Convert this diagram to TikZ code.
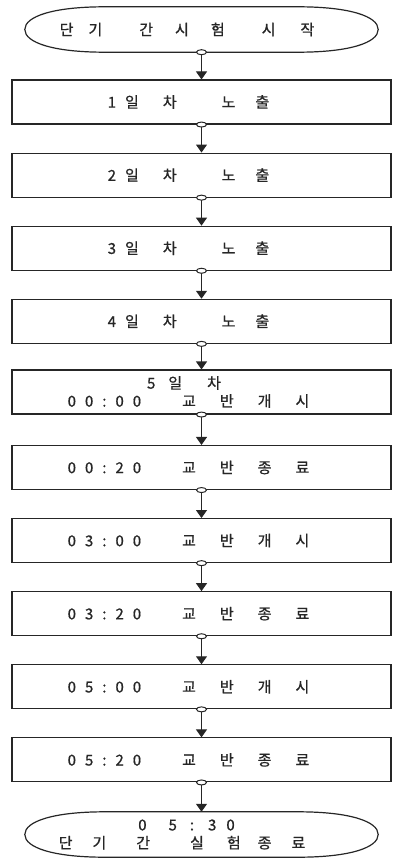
\documentclass[tikz,border=0pt]{standalone}
\usepackage{fontspec}
\setmainfont{Noto Sans CJK KR}
\usetikzlibrary{shapes.geometric,arrows.meta}
\newcommand{\clk}[4]{#1\hspace{9pt}#2\hspace{9pt}:\hspace{9pt}#3\hspace{9pt}#4\hspace{41pt}}
\newcommand{\act}[4]{#1\hspace{24pt}#2\hspace{24pt}#3\hspace{24pt}#4}
\begin{document}
\begin{tikzpicture}[x=1pt,y=-1pt,>={Triangle[width=11pt,length=8pt]},
every node/.style={font=\fontsize{15}{18}\selectfont\addfontfeature{FakeBold=0.8},text=black!85},
term/.style={minimum width=353pt,minimum height=45pt,inner sep=0pt,align=center},
termline/.style={draw=black!85,line width=1.2pt},
stepbox/.style={draw=black!85,line width=1.1pt,minimum width=379pt,minimum height=44pt,inner sep=0pt,align=center,execute at end node={\kern26pt}},
port/.style={draw=black!85,ellipse,fill=white,line width=1pt,minimum width=10pt,minimum height=5pt,inner sep=0pt},
flow/.style={->,draw=black!85,line width=1.1pt}]
\useasboundingbox (0,0) rectangle (394,859);
\node[term] (start) at (201.5,29.5) {단\hspace{15pt}기\hspace{37pt}간\hspace{22pt}시\hspace{22pt}험\hspace{37pt}시\hspace{25pt}작\kern29pt};
\node[stepbox] (b1) at (201.5,102) {1\hspace{9pt}일\hspace{24pt}차\hspace{45pt}노\hspace{20pt}출};
\node[stepbox] (b2) at (201.5,175.1) {2\hspace{9pt}일\hspace{24pt}차\hspace{45pt}노\hspace{20pt}출};
\node[stepbox] (b3) at (201.5,248.2) {3\hspace{9pt}일\hspace{24pt}차\hspace{45pt}노\hspace{20pt}출};
\node[stepbox] (b4) at (201.5,321.3) {4\hspace{9pt}일\hspace{24pt}차\hspace{45pt}노\hspace{20pt}출};
\node[stepbox] (b5) at (201.5,392) {5\hspace{13pt}일\hspace{25pt}차\kern9pt\\\clk0000\act{교}{반}{개}{시}};
\node[stepbox] (b6) at (201.5,467.5) {\clk0020\act{교}{반}{종}{료}};
\node[stepbox] (b7) at (201.5,540.6) {\clk0300\act{교}{반}{개}{시}};
\node[stepbox] (b8) at (201.5,613.7) {\clk0320\act{교}{반}{종}{료}};
\node[stepbox] (b9) at (201.5,686.8) {\clk0500\act{교}{반}{개}{시}};
\node[stepbox] (b10) at (201.5,759.9) {\clk0520\act{교}{반}{종}{료}};
\node[term] (stop) at (201.5,834.5) {0\hspace{22pt}5\hspace{13pt}:\hspace{14pt}3\hspace{10pt}0\kern30pt\\단\hspace{20pt}기\hspace{30pt}간\hspace{40pt}실\hspace{23pt}험\hspace{17pt}종\hspace{20pt}료\kern39pt};
% rounded outline of the two end nodes
\foreach \t in {start,stop}
  \draw[termline] (\t.west) .. controls ([yshift=13pt]\t.west) and ([xshift=28pt]\t.north west) .. ([xshift=80pt]\t.north west)
    -- ([xshift=-80pt]\t.north east) .. controls ([xshift=-28pt]\t.north east) and ([yshift=13pt]\t.east) .. (\t.east)
    .. controls ([yshift=-13pt]\t.east) and ([xshift=-28pt]\t.south east) .. ([xshift=-80pt]\t.south east)
    -- ([xshift=80pt]\t.south west) .. controls ([xshift=28pt]\t.south west) and ([yshift=-13pt]\t.west) .. cycle;
\foreach \a/\b in {start/b1,b1/b2,b2/b3,b3/b4,b4/b5,b5/b6,b6/b7,b7/b8,b8/b9,b9/b10,b10/stop}{
  \draw[flow] (\a.south) -- (\b.north);
  \node[port] (p\a) at (\a.south) {};
}
\end{tikzpicture}
\end{document}
